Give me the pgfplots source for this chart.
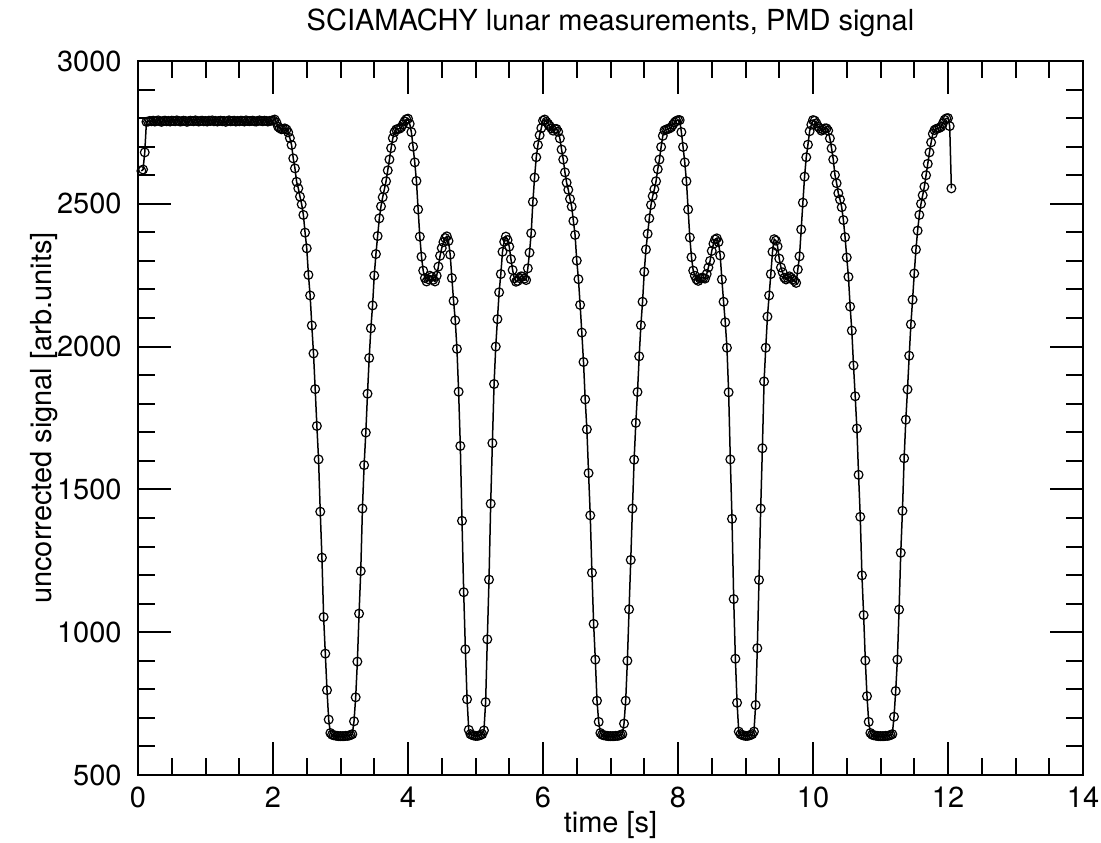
\documentclass[border=0pt]{standalone}
\usepackage{fontspec}
\setmainfont{TeX Gyre Heros}
\usepackage{pgfplots}
\pgfplotsset{compat=1.18}
\usepackage{pgfplotstable}
\begin{document}
\pgfplotstableread{
t y
0.050 2615
0.075 2620
0.100 2680
0.125 2787
0.150 2788
0.175 2790
0.200 2789
0.225 2791
0.250 2788
0.275 2790
0.300 2792
0.325 2789
0.350 2787
0.375 2790
0.400 2791
0.425 2789
0.450 2790
0.475 2788
0.500 2791
0.525 2790
0.550 2789
0.575 2792
0.600 2790
0.625 2788
0.650 2789
0.675 2791
0.700 2790
0.725 2787
0.750 2789
0.775 2791
0.800 2790
0.825 2789
0.850 2792
0.875 2790
0.900 2788
0.925 2790
0.950 2791
0.975 2789
1.000 2790
1.025 2788
1.050 2791
1.075 2790
1.100 2792
1.125 2789
1.150 2790
1.175 2788
1.200 2790
1.225 2791
1.250 2789
1.275 2790
1.300 2787
1.325 2790
1.350 2792
1.375 2789
1.400 2790
1.425 2791
1.450 2788
1.475 2790
1.500 2789
1.525 2791
1.550 2790
1.575 2788
1.600 2792
1.625 2790
1.650 2789
1.675 2790
1.700 2791
1.725 2789
1.750 2788
1.775 2790
1.800 2792
1.825 2790
1.850 2789
1.875 2791
1.900 2790
1.925 2788
1.950 2790
1.975 2791
2.000 2792
2.025 2795
2.050 2785
2.075 2770
2.100 2765
2.125 2761
2.150 2762
2.175 2764
2.200 2760
2.225 2750
2.250 2730
2.275 2706
2.300 2659
2.325 2624
2.350 2577
2.375 2554
2.400 2525
2.425 2498
2.450 2461
2.475 2399
2.500 2344
2.525 2251
2.550 2179
2.575 2074
2.600 1976
2.625 1851
2.650 1722
2.675 1605
2.700 1422
2.725 1261
2.750 1053
2.775 925
2.800 797
2.825 694
2.850 647
2.875 641
2.900 639
2.925 638
2.950 637
2.975 636
3.000 636
3.025 636
3.050 636
3.075 637
3.100 637
3.125 638
3.150 640
3.175 643
3.200 688
3.225 772
3.250 897
3.275 1065
3.300 1214
3.325 1433
3.350 1585
3.375 1699
3.400 1835
3.425 1960
3.450 2064
3.475 2144
3.500 2249
3.525 2324
3.550 2387
3.575 2449
3.600 2491
3.625 2523
3.650 2551
3.675 2579
3.700 2617
3.725 2655
3.750 2695
3.775 2730
3.800 2751
3.825 2760
3.850 2762
3.875 2763
3.900 2768
3.925 2778
3.950 2789
3.975 2796
4.000 2798
4.025 2780
4.050 2751
4.075 2700
4.100 2645
4.125 2580
4.150 2480
4.175 2385
4.200 2315
4.225 2266
4.250 2240
4.275 2228
4.300 2236
4.325 2248
4.350 2244
4.375 2234
4.400 2228
4.425 2248
4.450 2280
4.475 2318
4.500 2345
4.525 2366
4.550 2380
4.575 2386
4.600 2370
4.625 2322
4.650 2240
4.675 2160
4.700 2092
4.725 1992
4.750 1842
4.775 1652
4.800 1390
4.825 1140
4.850 940
4.875 765
4.900 658
4.925 643
4.950 640
4.975 638
5.000 637
5.025 637
5.050 638
5.075 640
5.100 643
5.125 656
5.150 755
5.175 975
5.200 1184
5.225 1450
5.250 1662
5.275 1869
5.300 2000
5.325 2096
5.350 2190
5.375 2254
5.400 2332
5.425 2367
5.450 2385
5.475 2373
5.500 2350
5.525 2306
5.550 2268
5.575 2239
5.600 2227
5.625 2230
5.650 2240
5.675 2246
5.700 2245
5.725 2238
5.750 2233
5.775 2274
5.800 2329
5.825 2397
5.850 2507
5.875 2592
5.900 2663
5.925 2706
5.950 2740
5.975 2765
6.000 2791
6.025 2795
6.050 2787
6.075 2780
6.100 2772
6.125 2764
6.150 2756
6.175 2762
6.200 2762
6.225 2752
6.250 2729
6.275 2690
6.300 2655
6.325 2610
6.350 2574
6.375 2549
6.400 2517
6.425 2490
6.450 2440
6.475 2391
6.500 2301
6.525 2236
6.550 2146
6.575 2049
6.600 1946
6.625 1815
6.650 1710
6.675 1557
6.700 1409
6.725 1208
6.750 1029
6.775 904
6.800 760
6.825 686
6.850 647
6.875 641
6.900 639
6.925 638
6.950 637
6.975 636
7.000 636
7.025 636
7.050 636
7.075 637
7.100 637
7.125 638
7.150 640
7.175 643
7.200 680
7.225 760
7.250 900
7.275 1080
7.300 1253
7.325 1433
7.350 1604
7.375 1733
7.400 1841
7.425 1966
7.450 2075
7.475 2157
7.500 2262
7.525 2340
7.550 2395
7.575 2449
7.600 2496
7.625 2527
7.650 2551
7.675 2579
7.700 2621
7.725 2655
7.750 2699
7.775 2738
7.800 2757
7.825 2760
7.850 2762
7.875 2764
7.900 2768
7.925 2777
7.950 2785
7.975 2790
8.000 2793
8.025 2793
8.050 2751
8.075 2699
8.100 2645
8.125 2579
8.150 2480
8.175 2382
8.200 2313
8.225 2266
8.250 2248
8.275 2235
8.300 2230
8.325 2238
8.350 2241
8.375 2240
8.400 2238
8.425 2254
8.450 2277
8.475 2300
8.500 2335
8.525 2360
8.550 2375
8.575 2379
8.600 2366
8.625 2319
8.650 2235
8.675 2157
8.700 2085
8.725 1996
8.750 1840
8.775 1605
8.800 1397
8.825 1116
8.850 907
8.875 753
8.900 652
8.925 643
8.950 640
8.975 638
9.000 637
9.025 637
9.050 638
9.075 640
9.100 643
9.125 652
9.150 745
9.175 944
9.200 1183
9.225 1433
9.250 1644
9.275 1878
9.300 1996
9.325 2105
9.350 2179
9.375 2254
9.400 2332
9.425 2376
9.450 2371
9.475 2351
9.500 2308
9.525 2277
9.550 2260
9.575 2241
9.600 2235
9.625 2240
9.650 2246
9.675 2241
9.700 2235
9.725 2230
9.750 2223
9.775 2270
9.800 2316
9.825 2410
9.850 2504
9.875 2595
9.900 2663
9.925 2707
9.950 2754
9.975 2777
10.000 2793
10.025 2791
10.050 2782
10.075 2770
10.100 2764
10.125 2756
10.150 2760
10.175 2764
10.200 2764
10.225 2756
10.250 2729
10.275 2694
10.300 2655
10.325 2601
10.350 2572
10.375 2537
10.400 2515
10.425 2488
10.450 2443
10.475 2383
10.500 2312
10.525 2244
10.550 2140
10.575 2056
10.600 1934
10.625 1826
10.650 1713
10.675 1551
10.700 1404
10.725 1199
10.750 1060
10.775 901
10.800 776
10.825 686
10.850 647
10.875 641
10.900 639
10.925 638
10.950 637
10.975 636
11.000 636
11.025 636
11.050 636
11.075 637
11.100 637
11.125 638
11.150 640
11.175 643
11.200 704
11.225 794
11.250 904
11.275 1079
11.300 1278
11.325 1425
11.350 1609
11.375 1744
11.400 1850
11.425 1968
11.450 2078
11.475 2164
11.500 2256
11.525 2340
11.550 2406
11.575 2461
11.600 2500
11.625 2530
11.650 2560
11.675 2600
11.700 2640
11.725 2680
11.750 2715
11.775 2745
11.800 2758
11.825 2762
11.850 2764
11.875 2766
11.900 2770
11.925 2782
11.950 2794
11.975 2799
12.000 2800
12.025 2772
12.050 2554
}\pmd
\fontsize{14.5}{17}\selectfont
\begin{tikzpicture}
\begin{axis}[name=ax, scale only axis, width=472.5pt, height=357pt,
  xmin=0, xmax=14, ymin=500, ymax=3000,
  xtick distance=2, ytick distance=500,
  minor x tick num=3, minor y tick num=4,
  xtick pos=both, ytick pos=both,
  xticklabel pos=lower, yticklabel pos=left,
  tick align=inside,
  major tick length=16.5pt, minor tick length=8.5pt,
  tick style={black, line width=1pt},
  axis line style={line width=1pt},
  /pgf/number format/assume math mode=true,
  /pgf/number format/1000 sep={},
  xticklabel style={inner sep=0pt, anchor=north, yshift=-6pt},
  yticklabel style={inner sep=0pt, anchor=east, xshift=-8pt},
  title={SCIAMACHY lunar measurements, PMD signal},
  title style={at={(0.5,1.0252)}, anchor=base, inner sep=0pt},
  xlabel={time [s]},
  xlabel style={at={(0.5,-0.0805)}, anchor=base, inner sep=0pt},
  ylabel={uncorrected signal [arb.units]},
  ylabel style={at={(-0.091,0.5)}, anchor=base, inner sep=0pt},
]
\addplot[black, line width=0.75pt, mark=o, mark size=2.2pt,
  mark options={line width=0.6pt, solid}] table {\pmd};
\end{axis}
\pgfresetboundingbox
\path[use as bounding box] ([xshift=-69pt,yshift=-34pt]ax.south west) rectangle ([xshift=9pt,yshift=30.5pt]ax.north east);
\end{tikzpicture}
\end{document}
